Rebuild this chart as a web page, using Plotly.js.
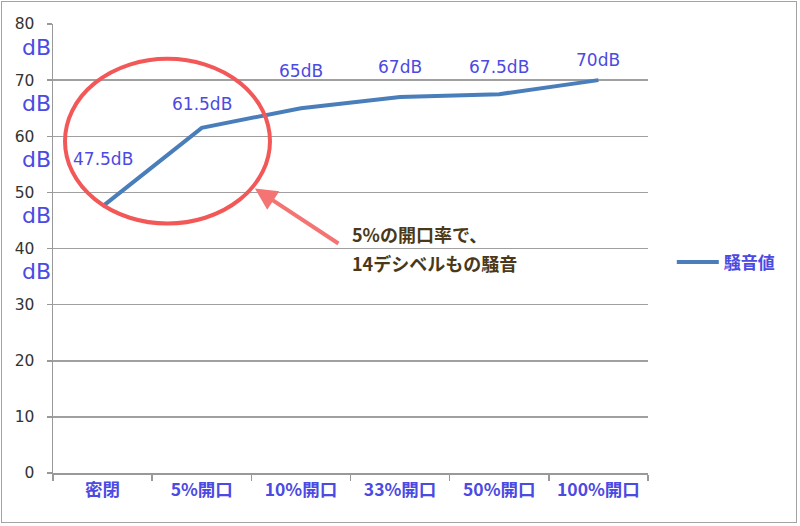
<!DOCTYPE html>
<html>
<head>
<meta charset="utf-8">
<script src="https://cdn.plot.ly/plotly-3.0.1.min.js"></script>
<style>
html,body{margin:0;padding:0;background:#fff;}
#wrap{position:relative;width:800px;height:526px;}
#chart{position:absolute;left:0;top:0;width:800px;height:526px;}
#frame{position:absolute;left:1px;top:1px;width:794px;height:520px;border:1.5px solid #a3a3a3;pointer-events:none;}
</style>
</head>
<body>
<div id="wrap"><div id="chart"></div><div id="frame"></div></div>
<script>
// ---- data ----
const categories = ['密閉', '5%開口', '10%開口', '33%開口', '50%開口', '100%開口'];
const noise = [47.5, 61.5, 65, 67, 67.5, 70];
const seriesName = '騒音値';
const valueLabels = ['47.5dB', '61.5dB', '65dB', '67dB', '67.5dB', '70dB'];
const yTickVals = [0, 10, 20, 30, 40, 50, 60, 70, 80];
const yTickText = ['0', '10', '20', '30', '40', '50', '60', '70', '80'];
const dBTickVals = [40, 50, 60, 70, 80];
const dBText = 'dB';
const noteLines = ['5%の開口率で、', '14デシベルもの騒音'];

// ---- styling (not data) ----
const labelShift = [47, 24, 37, 30, 27, 20];
const blue = '#4b4ae2';
const jp = '"Noto Sans CJK JP", "DejaVu Sans", sans-serif';
const lat = '"DejaVu Sans", Verdana, sans-serif';

const trace = {
  type: 'scatter', mode: 'lines',
  x: categories, y: noise, name: seriesName,
  line: {color: '#4a7ebb', width: 4},
  showlegend: true
};

const annotations = [];
categories.forEach((c, i) => {
  annotations.push({
    x: c, y: noise[i], xref: 'x', yref: 'y',
    text: valueLabels[i], showarrow: false,
    yanchor: 'middle', xanchor: 'center', yshift: labelShift[i],
    font: {family: lat, size: 17, color: blue}
  });
});
dBTickVals.forEach(v => {
  annotations.push({
    x: 0, y: v, xref: 'paper', yref: 'y',
    text: dBText, showarrow: false, xanchor: 'right', yanchor: 'middle',
    xshift: -1, yshift: -23, borderpad: 0,
    font: {family: lat, size: 22, color: blue}
  });
});
// arrow
annotations.push({
  x: 1.536, y: 50.7, xref: 'x', yref: 'y', text: '', showarrow: true,
  ax: 85, ay: 56, arrowhead: 2, arrowsize: 1.1, arrowwidth: 4, arrowcolor: '#f47474',
  standoff: 0
});
noteLines.forEach((t, k) => {
  annotations.push({
    x: 2.49, y: k === 0 ? 42.5 : 37.5, xref: 'x', yref: 'y',
    text: t, showarrow: false, xanchor: 'left', yanchor: 'middle',
    font: {family: jp, size: 18, color: '#4a3919', weight: 700}
  });
});

const layout = {
  width: 800, height: 526,
  margin: {l: 53, r: 152, t: 24, b: 53},
  paper_bgcolor: '#fff', plot_bgcolor: '#fff',
  showlegend: true,
  legend: {x: 1.04, y: 0.469, xanchor: 'left', yanchor: 'middle',
           font: {family: jp, size: 17, color: blue, weight: 700},
           itemwidth: 42, bgcolor: 'rgba(0,0,0,0)'},
  xaxis: {
    type: 'category', showgrid: false, showline: true, linecolor: '#999', linewidth: 1.5,
    ticks: 'outside', tickson: 'boundaries', ticklen: 6, tickcolor: '#999', tickwidth: 1.5,
    tickfont: {family: jp, size: 17.5, color: blue, weight: 700},
    range: [-0.5, 5.5], fixedrange: true
  },
  yaxis: {
    range: [0, 80], tickvals: yTickVals, ticktext: yTickText,
    showgrid: true, gridcolor: '#a0a0a0', gridwidth: 1.5,
    showline: true, linecolor: '#999', linewidth: 1.5,
    ticks: 'outside', ticklen: 5, tickcolor: '#999', tickwidth: 1.5,
    ticklabelstandoff: 9,
    tickfont: {family: lat, size: 15.5, color: '#333'},
    zeroline: false
  },
  shapes: [{
    type: 'circle', xref: 'x', yref: 'y',
    x0: -0.379, x1: 1.688, y0: 44.45, y1: 73.8,
    line: {color: '#f25858', width: 4}
  }],
  annotations: annotations
};

Plotly.newPlot('chart', [trace], layout, {displayModeBar: false, staticPlot: true});
</script>
</body>
</html>
